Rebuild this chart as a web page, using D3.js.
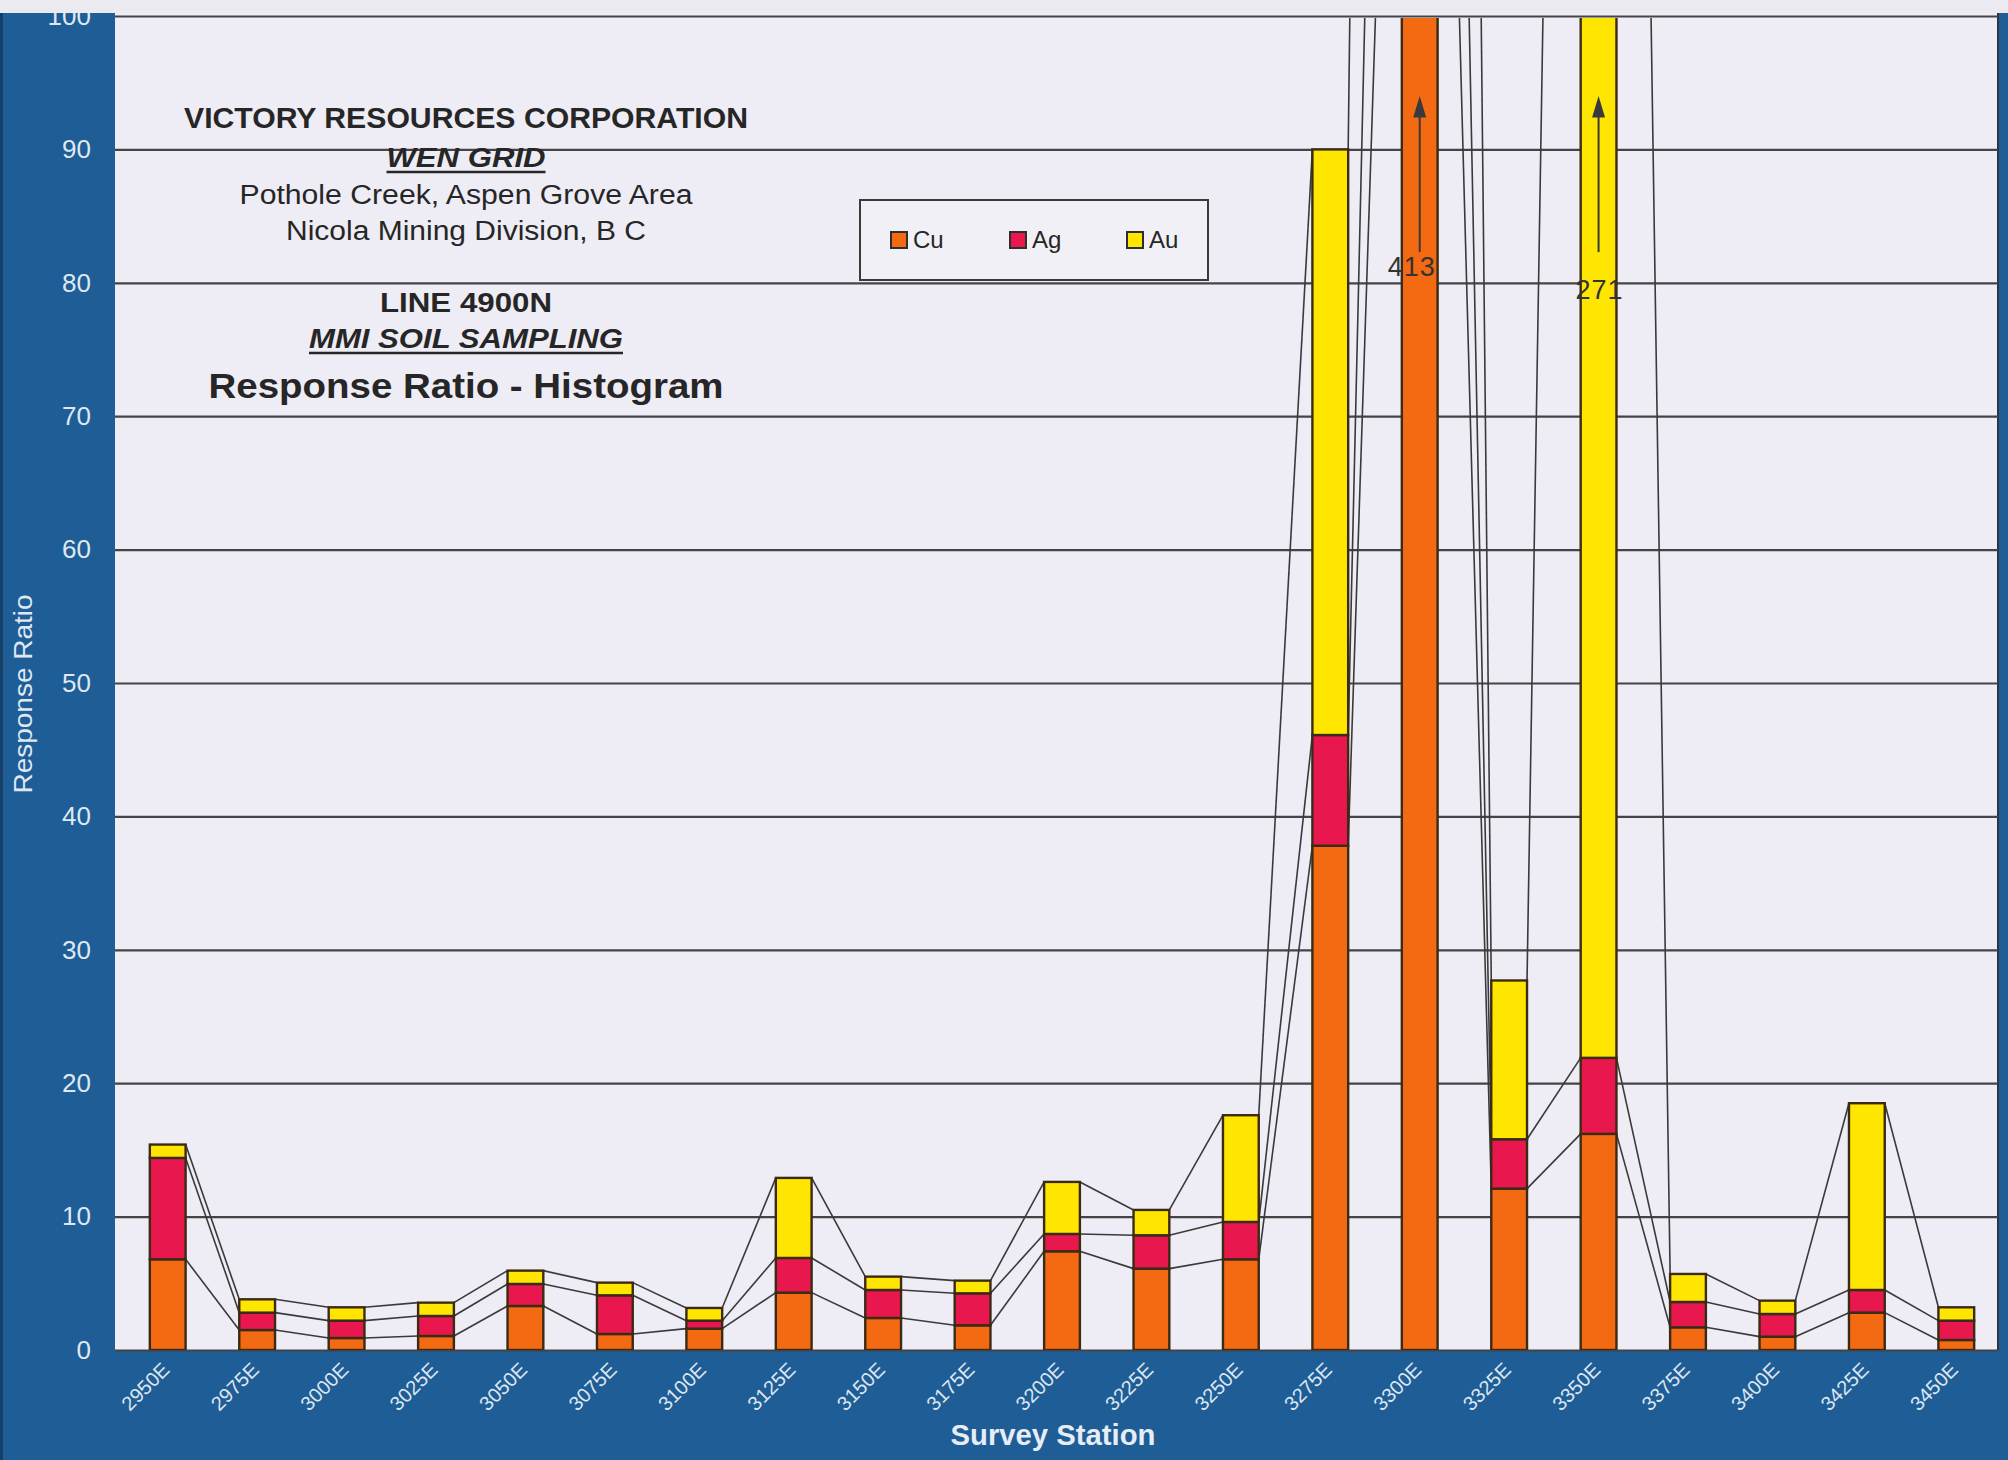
<!DOCTYPE html>
<html>
<head>
<meta charset="utf-8">
<script src="https://cdn.jsdelivr.net/npm/d3@7"></script>
<style>
  html, body { margin: 0; padding: 0; background: #ffffff; }
  svg { display: block; }
  text { font-family: "Liberation Sans", Arial, Helvetica, sans-serif; }
</style>
</head>
<body>
<svg id="chart" width="2008" height="1460"></svg>
<script>
// Survey stations along line 4900N
const stations = ["2950E","2975E","3000E","3025E","3050E","3075E","3100E","3125E","3150E","3175E",
                  "3200E","3225E","3250E","3275E","3300E","3325E","3350E","3375E","3400E","3425E","3450E"];

// MMI response ratios per element (stacked Cu, Ag, Au)
const cu = [6.8, 1.5, 0.9, 1.05, 3.3, 1.2, 1.6, 4.3, 2.4, 1.85, 7.4, 6.1, 6.8, 37.8, 160, 12.1, 16.2, 1.7, 1.0, 2.8, 0.75];
const ag = [7.6, 1.3, 1.3, 1.5, 1.65, 2.9, 0.6, 2.6, 2.1, 2.4, 1.3, 2.5, 2.8, 8.3, 60, 3.7, 5.7, 1.9, 1.7, 1.7, 1.45];
const au = [1.0, 1.0, 1.0, 1.0, 1.0, 0.95, 0.95, 6.0, 1.0, 0.95, 3.9, 1.9, 8.0, 43.9, 193, 11.9, 249.1, 2.1, 1.0, 14.0, 1.0];

const elements = ["Cu", "Ag", "Au"];
const elementColors = ["#f46a12", "#e8184f", "#ffe600"];
const yTicks = [0, 10, 20, 30, 40, 50, 60, 70, 80, 90, 100];
// stations whose totals run off the top of the scale
const offScale = ["3300E", "3350E"];

const titleLines = [
  { text: "VICTORY RESOURCES CORPORATION", size: 29, weight: "bold", style: "normal", y: 128, len: 564, underline: false },
  { text: "WEN GRID", size: 27, weight: "bold", style: "italic", y: 167, len: 159, underline: true },
  { text: "Pothole Creek, Aspen Grove Area", size: 27, weight: "normal", style: "normal", y: 204, len: 453, underline: false },
  { text: "Nicola Mining Division, B C", size: 27, weight: "normal", style: "normal", y: 240, len: 360, underline: false },
  { text: "LINE 4900N", size: 27, weight: "bold", style: "normal", y: 312, len: 172, underline: false },
  { text: "MMI SOIL SAMPLING", size: 27, weight: "bold", style: "italic", y: 348, len: 314, underline: true },
  { text: "Response Ratio - Histogram", size: 35, weight: "bold", style: "normal", y: 398, len: 515, underline: false }
];

// ---- layout ----
const W = 2008, H = 1460;
const plot = { left: 115, right: 1998, top: 16, bottom: 1350 };
const bandBlue = "#1e5d96";
const plotBg = "#eeecf5";

const svg = d3.select("#chart");

const table = stations.map((s, i) => ({ station: s, Cu: cu[i], Ag: ag[i], Au: au[i] }));
const stacked = d3.stack().keys(elements)(table);

const x = d3.scaleBand().domain(stations).range([123, 2001]).paddingInner(0.6).paddingOuter(0.3);
const y = d3.scaleLinear().domain([0, 100]).range([plot.bottom, plot.top]);
const bw = x.bandwidth();

// frame bands
svg.append("rect").attr("x", 0).attr("y", 0).attr("width", W).attr("height", H).attr("fill", bandBlue);
svg.append("rect").attr("x", 0).attr("y", 0).attr("width", 3).attr("height", H).attr("fill", "#163f66");
svg.append("rect")
  .attr("x", plot.left).attr("y", 0)
  .attr("width", plot.right - plot.left).attr("height", plot.bottom)
  .attr("fill", plotBg);
svg.append("line")
  .attr("x1", plot.right).attr("x2", plot.right).attr("y1", 0).attr("y2", plot.bottom)
  .attr("stroke", "#2b3440").attr("stroke-width", 2);

svg.append("defs").append("clipPath").attr("id", "plotClip")
  .append("rect")
  .attr("x", plot.left).attr("y", plot.top + 2)
  .attr("width", plot.right - plot.left).attr("height", plot.bottom - plot.top - 2);

// gridlines
const grid = svg.append("g")
  .attr("transform", `translate(${plot.left},0)`)
  .call(d3.axisLeft(y).tickValues(yTicks).tickSize(-(plot.right - plot.left)).tickFormat(""));
grid.select(".domain").remove();
grid.selectAll("line").attr("stroke", "#444444").attr("stroke-width", 2.2);

// y tick labels
const yAxis = svg.append("g")
  .attr("transform", `translate(${plot.left},0)`)
  .call(d3.axisLeft(y).tickValues(yTicks).tickSize(0).tickPadding(24));
yAxis.select(".domain").remove();
yAxis.selectAll("text")
  .attr("fill", "#dfe8f2")
  .style("font-size", "26px");

const plotG = svg.append("g").attr("clip-path", "url(#plotClip)");

// series lines joining the top of each element between neighbouring stations
stacked.forEach(layer => {
  const segs = d3.pairs(layer);
  plotG.append("g").selectAll("line")
    .data(segs)
    .join("line")
    .attr("x1", d => x(d[0].data.station) + bw)
    .attr("y1", d => y(d[0][1]))
    .attr("x2", d => x(d[1].data.station))
    .attr("y2", d => y(d[1][1]))
    .attr("stroke", "#3a3a3a")
    .attr("stroke-width", 1.6);
});

// stacked bars
stacked.forEach((layer, k) => {
  plotG.append("g").selectAll("rect")
    .data(layer)
    .join("rect")
    .attr("x", d => x(d.data.station))
    .attr("y", d => y(d[1]))
    .attr("width", bw)
    .attr("height", d => y(d[0]) - y(d[1]))
    .attr("fill", elementColors[k])
    .attr("stroke", "#3b2b16")
    .attr("stroke-width", 2.4);
});

// off-scale annotations: arrow and total value
const totals = table.map(d => d.Cu + d.Ag + d.Au);
const labelBase = { "3300E": 80.5, "3350E": 78.8 };
const labelShift = { "3300E": -8, "3350E": 1 };
offScale.forEach(s => {
  const i = stations.indexOf(s);
  const cx = x(s) + bw / 2;
  svg.append("line")
    .attr("x1", cx).attr("x2", cx)
    .attr("y1", y(82.3)).attr("y2", y(92.6))
    .attr("stroke", "#3a3a3a").attr("stroke-width", 2);
  svg.append("path")
    .attr("d", `M${cx},${y(94.0)} L${cx - 6.5},${y(92.4)} L${cx + 6.5},${y(92.4)} Z`)
    .attr("fill", "#3a3a3a");
  svg.append("text")
    .attr("x", cx + labelShift[s]).attr("y", y(labelBase[s]))
    .attr("text-anchor", "middle")
    .attr("fill", "#333333")
    .style("font-size", "27px")
    .style("letter-spacing", "1px")
    .text(d3.format(".0f")(totals[i]));
});

// x axis labels
const xAxis = svg.append("g")
  .attr("transform", `translate(0,${plot.bottom})`)
  .call(d3.axisBottom(x).tickSize(0));
xAxis.select(".domain").remove();
xAxis.selectAll("text")
  .attr("x", 0).attr("y", 0).attr("dy", 0)
  .attr("text-anchor", "end")
  .attr("transform", "translate(3,21) rotate(-45)")
  .attr("fill", "#dde6f0")
  .style("font-size", "20px");

// axis titles
svg.append("text")
  .attr("x", 1053).attr("y", 1445)
  .attr("text-anchor", "middle")
  .attr("fill", "#e6edf5")
  .style("font-size", "30px").style("font-weight", "bold")
  .attr("textLength", 205).attr("lengthAdjust", "spacingAndGlyphs")
  .text("Survey Station");

svg.append("text")
  .attr("transform", "translate(32,694) rotate(-90)")
  .attr("text-anchor", "middle")
  .attr("fill", "#dfe8f2")
  .style("font-size", "25px")
  .attr("textLength", 199).attr("lengthAdjust", "spacingAndGlyphs")
  .text("Response Ratio");

// title block
const titleCx = 466;
const tg = svg.append("g");
titleLines.forEach(t => {
  tg.append("text")
    .attr("x", titleCx).attr("y", t.y)
    .attr("text-anchor", "middle")
    .attr("fill", "#262626")
    .style("font-size", t.size + "px")
    .style("font-weight", t.weight)
    .style("font-style", t.style)
    .attr("textLength", t.len).attr("lengthAdjust", "spacingAndGlyphs")
    .text(t.text);
  if (t.underline) {
    tg.append("line")
      .attr("x1", titleCx - t.len / 2).attr("x2", titleCx + t.len / 2)
      .attr("y1", t.y + 5).attr("y2", t.y + 5)
      .attr("stroke", "#262626").attr("stroke-width", 2.5);
  }
});

// legend
const legend = svg.append("g").attr("transform", "translate(860,200)");
legend.append("rect")
  .attr("width", 348).attr("height", 80)
  .attr("fill", "#f1f0f6").attr("stroke", "#3a3a3a").attr("stroke-width", 2);
const legendX = [31, 150, 267];
const items = legend.selectAll("g.item").data(elements).join("g")
  .attr("class", "item")
  .attr("transform", (d, i) => `translate(${legendX[i]},32)`);
items.append("rect")
  .attr("width", 16).attr("height", 16)
  .attr("fill", (d, i) => elementColors[i])
  .attr("stroke", "#2e2e2e").attr("stroke-width", 2);
items.append("text")
  .attr("x", 22).attr("y", 16)
  .attr("fill", "#262626")
  .style("font-size", "24px")
  .text(d => d);

// pale strip along the top edge
svg.append("rect").attr("x", 0).attr("y", 0).attr("width", W).attr("height", 13).attr("fill", "#ebeaf1");
</script>
</body>
</html>
